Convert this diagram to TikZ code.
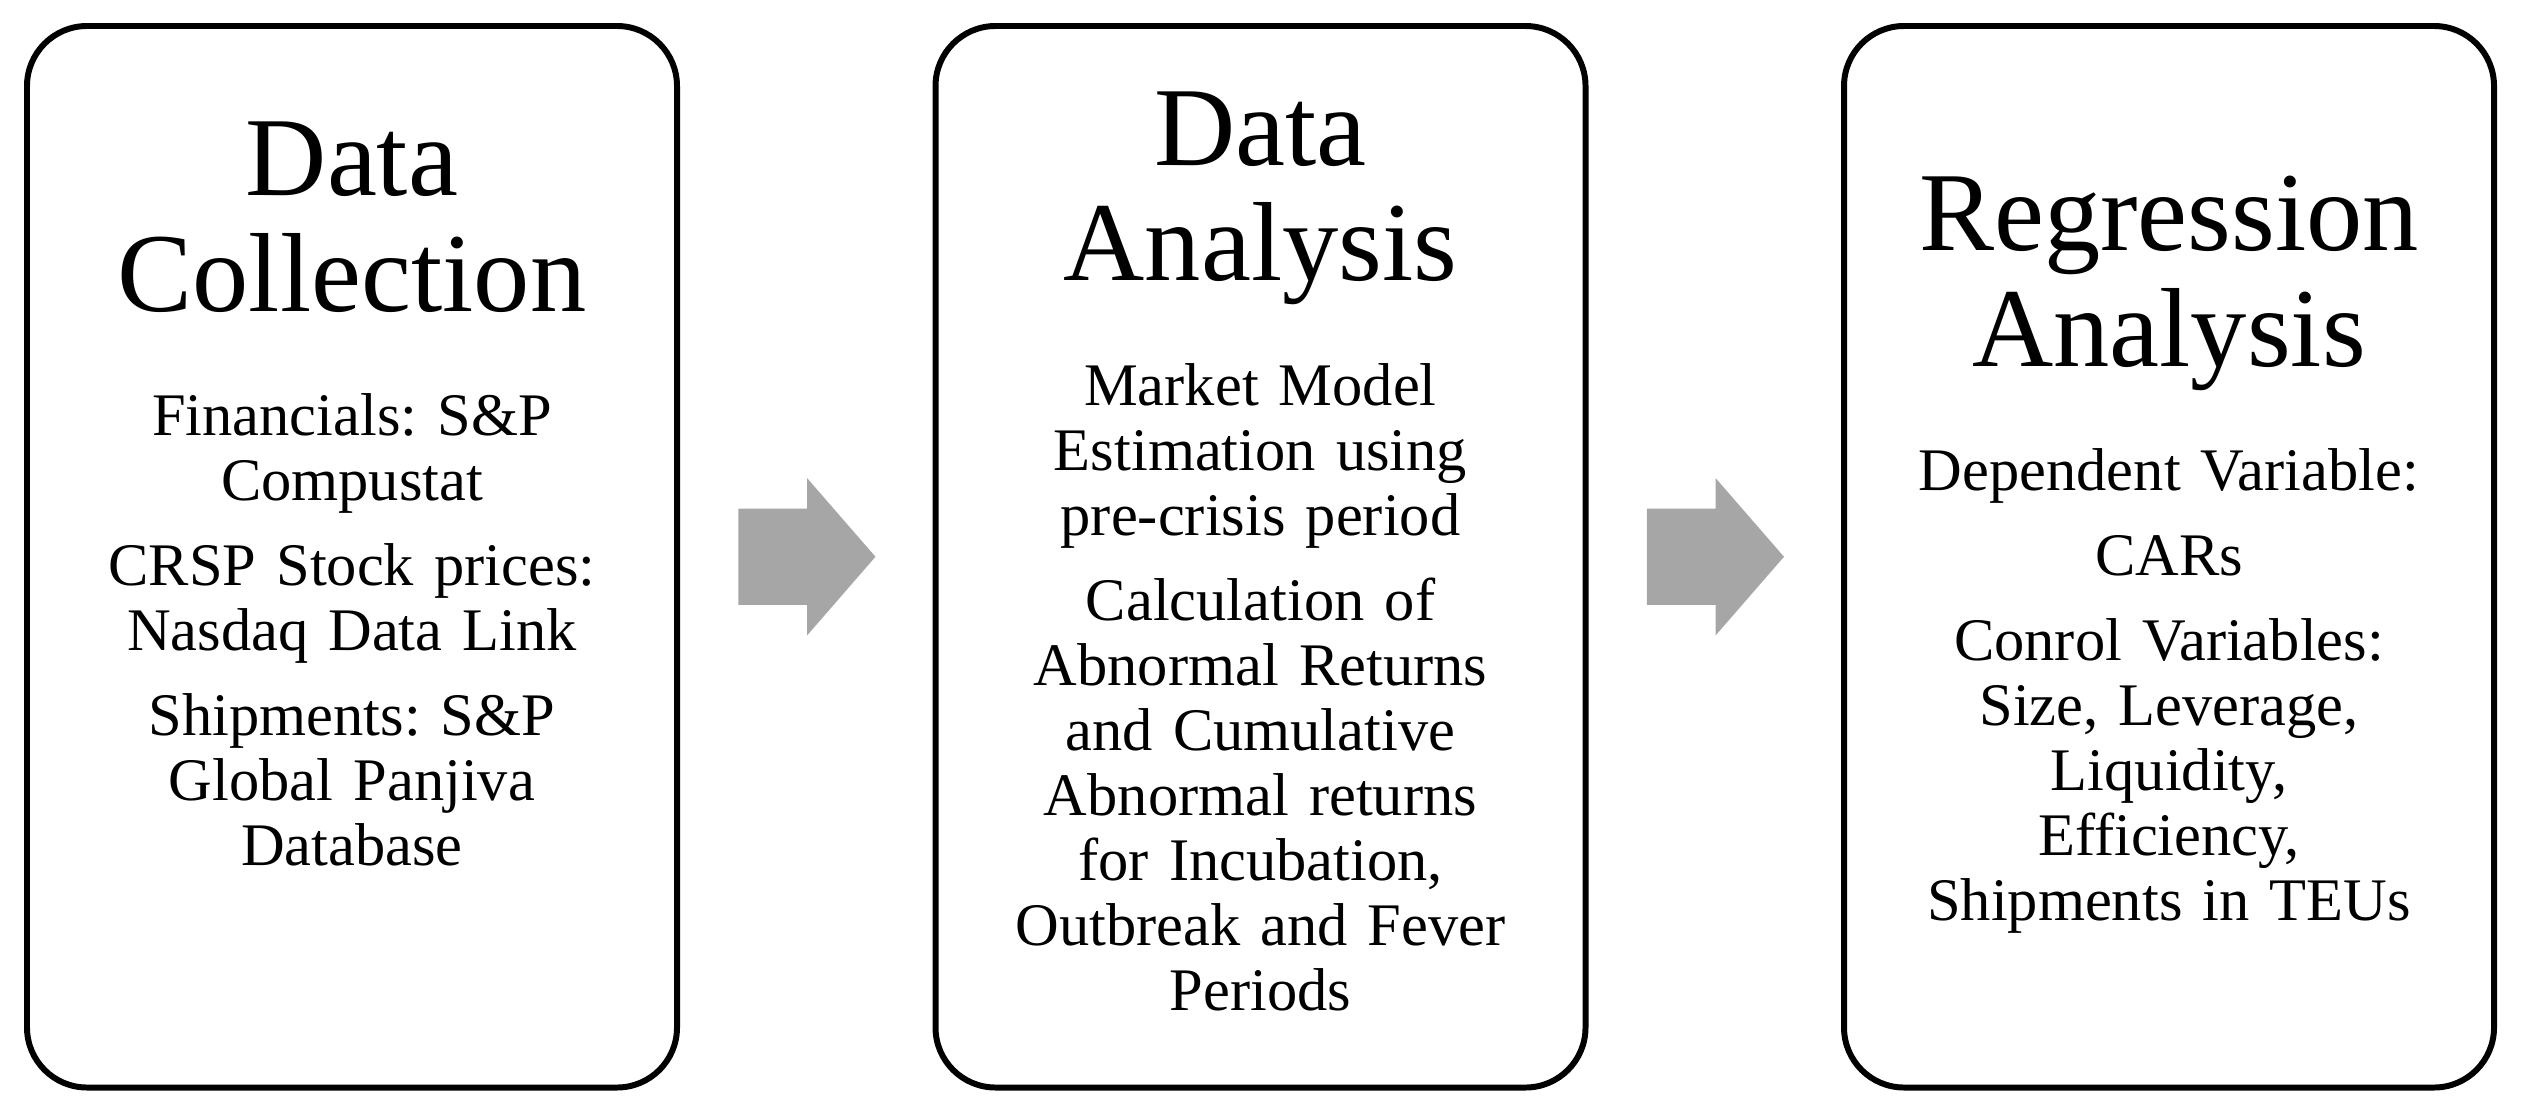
\documentclass[tikz,border=0pt]{standalone}
\usepackage{fontspec}
\setmainfont{Liberation Serif}
\usepackage{tikz}
\usetikzlibrary{
  positioning,
  calc,
  shapes.arrows
}
\frenchspacing
\definecolor{arrowGray}{HTML}{A6A6A6}
\tikzstyle{stepbox}=[draw, line width=1.7pt, rounded corners=0.6cm, minimum width=6.5cm, minimum height=10.615cm, inner sep=0pt]
\tikzstyle{titletext}=[anchor=base, inner sep=0pt, text width=6.3cm, align=center, font=\fontsize{32}{33}\selectfont]
\tikzstyle{bodytext}=[anchor=base, inner sep=0pt, text width=6.3cm, align=center, font=\fontsize{17.2}{18.5}\selectfont]
\tikzstyle{blockarrow}=[single arrow, anchor=tail, fill=arrowGray, draw=none, minimum height=1.37cm, inner xsep=0pt, inner ysep=0.475cm, single arrow head extend=0.305cm, single arrow tip angle=98]

\begin{document}
\begin{tikzpicture}
      \useasboundingbox (0,0) rectangle (25.24,11.13);
      \def\boxy{5.5625};
      \def\gap{5.7pt};

      % 三つの箱
      \node[stepbox] (collect) at (3.52,\boxy) {};
      \node[stepbox] (analysis) at (12.605,\boxy) {};
      \node[stepbox] (regress) at (21.69,\boxy) {};

      % 見出し
      \node[titletext] (collectTitle) at ([yshift=-1.72cm]collect.north) {Data\\Collection};
      \node[titletext] (analysisTitle) at ([yshift=-1.42cm]analysis.north) {Data\\Analysis};
      \node[titletext] (regressTitle) at ([yshift=-2.27cm]regress.north) {Regression\\Analysis};

      % 本文
      \node[bodytext] (collectBody) at ([yshift=-2.40cm]collectTitle.base)
        {Financials: S\&P\\Compustat\\[\gap]CRSP Stock prices:\\Nasdaq Data Link\\[\gap]Shipments: S\&P\\Global Panjiva\\Database};
      \node[bodytext] (analysisBody) at ([yshift=-2.40cm]analysisTitle.base)
        {Market Model\\Estimation using\\pre-crisis period\\[\gap]Calculation of\\Abnormal Returns\\and Cumulative\\Abnormal returns\\for Incubation,\\Outbreak and Fever\\Periods};
      \node[bodytext] (regressBody) at ([yshift=-2.40cm]regressTitle.base)
        {Dependent Variable:\\[\gap]CARs\\[\gap]Conrol Variables:\\Size, Leverage,\\Liquidity,\\Efficiency,\\Shipments in TEUs};

      % 矢印
      \node[blockarrow] (arrowA) at ($(collect.east)!0.5!(analysis.west)+(-0.685,0)$) {};
      \node[blockarrow] (arrowB) at ($(analysis.east)!0.5!(regress.west)+(-0.685,0)$) {};
\end{tikzpicture}
\end{document}
